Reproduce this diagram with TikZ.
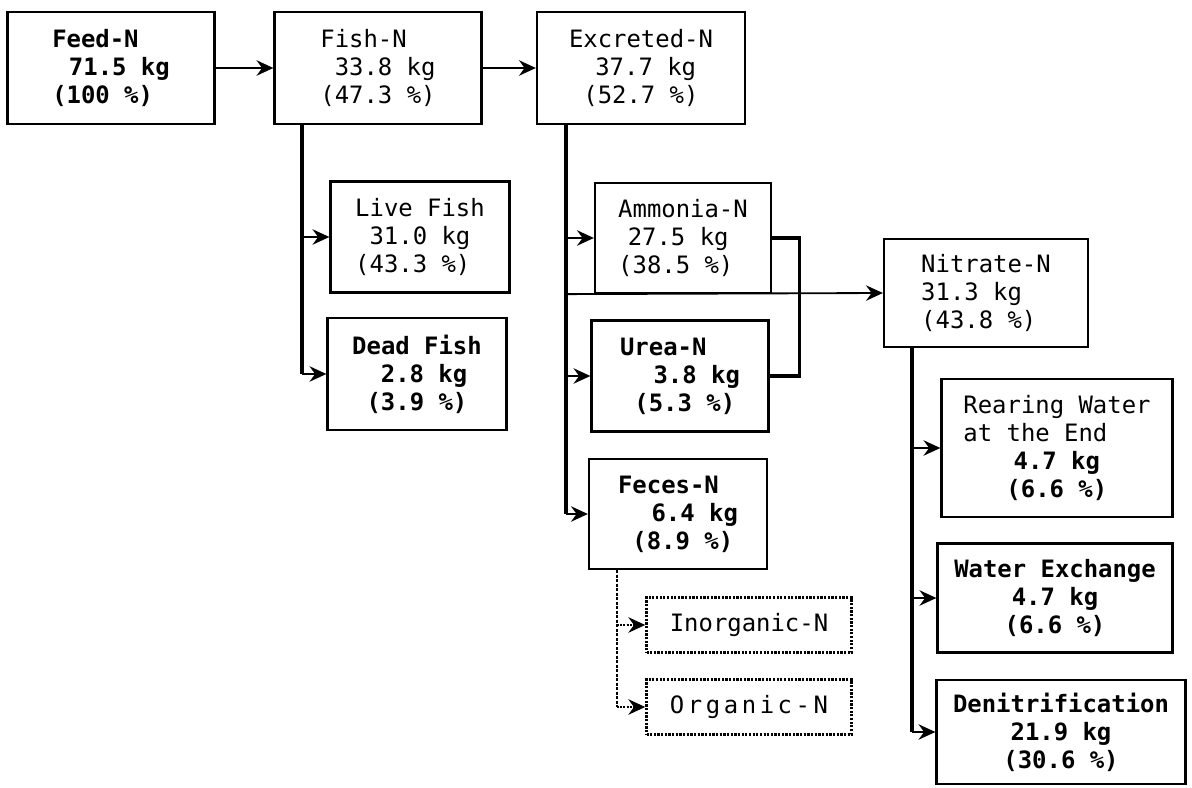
\documentclass[tikz,border=0pt]{standalone}
\usepackage{fontspec}
\usepackage{tikz}
\usetikzlibrary{arrows.meta,calc}
\newfontfamily\boxfont{DejaVu Sans Mono}
\newfontfamily\wideboxfont[LetterSpace=15]{DejaVu Sans Mono}
\newcommand{\ind}[1]{\hspace*{#1em}}
\tikzset{
  sz/.style 2 args={minimum width=#1*0.025cm,minimum height=#2*0.025cm},
  nbox/.style={rectangle,draw=black,line width=1.6pt,fill=white,
    font=\boxfont\fontsize{17pt}{20pt}\selectfont,align=left,inner sep=2pt},
  nboxB/.style={nbox,font=\boxfont\bfseries\fontsize{17pt}{20pt}\selectfont},
  dbox/.style={nbox,densely dotted,line width=1.8pt},
  link/.style={line width=1.3pt,color=black},
  trunk/.style={line width=2.2pt,color=black},
  arrow/.style={link,-{Stealth[length=12pt,width=11pt,inset=4pt]}},
  darrow/.style={arrow,densely dotted,line width=1.6pt}
}
\begin{document}
\begin{tikzpicture}[x=0.025cm,y=-0.025cm]
  \useasboundingbox (0,0) rectangle (1192,788);
  % top row
  \node[nboxB,sz={207}{112}] (feed) at (111,68)
    {Feed-N\\\ind{0.7}71.5 kg\\(100 \%)};
  \node[nbox,sz={207}{112}] (fish) at (378,68)
    {Fish-N\\\ind{0.6}33.8 kg\\(47.3 \%)};
  \node[nbox,sz={208}{112}] (excr) at (641,68)
    {Excreted-N\\\ind{1.1}37.7 kg\\\ind{0.6}(52.7 \%)};
  \draw[arrow] (feed) -- (fish);
  \draw[arrow] (fish) -- (excr);
  % fish branch
  \node[nbox,sz={179}{111}] (live) at (420,237)
    {Live Fish\\\ind{0.6}31.0 kg\\(43.3 \%)};
  \node[nboxB,sz={179}{112}] (dead) at (417,374)
    {Dead Fish\\\ind{1.2}2.8 kg\\\ind{0.6}(3.9 \%)};
  \coordinate (ft) at (302,0);
  \draw[trunk] (fish.south -| ft) -- (ft |- dead.west);
  \draw[arrow] (ft |- live.west) -- (live.west);
  \draw[arrow] (ft |- dead.west) -- (dead.west);
  % excreted branch
  \node[nbox,sz={176}{110}] (amm) at (683,238)
    {Ammonia-N\\\ind{0.4}27.5 kg\\(38.5 \%)};
  \node[nboxB,sz={177}{111}] (urea) at (680,376)
    {Urea-N\\\ind{1.4}3.8 kg\\\ind{0.6}(5.3 \%)};
  \node[nboxB,sz={178}{110}] (feces) at (678,514)
    {Feces-N\\\ind{1.4}6.4 kg\\\ind{0.6}(8.9 \%)};
  \coordinate (et) at (566,0);
  \draw[trunk] (excr.south -| et) -- (et |- feces.west);
  \draw[arrow] (et |- amm.west) -- (amm.west);
  \draw[arrow] (et |- urea.west) -- (urea.west);
  \draw[arrow] (et |- feces.west) -- (feces.west);
  \draw[trunk] (amm.east) -- ++(27,0) |- (urea.east);
  % nitrate
  \node[nbox,sz={204}{108}] (nitr) at (986,293)
    {Nitrate-N\\31.3 kg\\(43.8 \%)};
  \draw[arrow] (et |- amm.south) -- (nitr.west);
  \node[nbox,sz={231}{138}] (rear) at (1057,448)
    {Rearing Water\\at the End\\\ind{2.1}\textbf{4.7 kg}\\\ind{1.8}\textbf{(6.6 \%)}};
  \node[nboxB,sz={235}{109},align=center] (wex) at (1055,598)
    {Water Exchange\\4.7 kg\\(6.6 \%)};
  \node[nboxB,sz={249}{104},align=center] (deni) at (1061,732)
    {Denitrification\\21.9 kg\\(30.6 \%)};
  \coordinate (nt) at (912,0);
  \draw[trunk] (nitr.south -| nt) -- (nt |- deni.west);
  \draw[arrow] (nt |- rear.west) -- (rear.west);
  \draw[arrow] (nt |- wex.west) -- (wex.west);
  \draw[arrow] (nt |- deni.west) -- (deni.west);
  % feces fractions
  \node[dbox,sz={205}{55},align=center] (inorg) at (749,625) {Inorganic-N};
  \node[dbox,sz={205}{55},align=center,font=\wideboxfont\fontsize{17pt}{20pt}\selectfont] (org) at (749,707) {Organic-N};
  \coordinate (pt) at (617,0);
  \draw[trunk,densely dotted,line width=1.8pt] (feces.south -| pt) -- (pt |- org.west);
  \draw[darrow] (pt |- inorg.west) -- (inorg.west);
  \draw[darrow] (pt |- org.west) -- (org.west);
\end{tikzpicture}
\end{document}
